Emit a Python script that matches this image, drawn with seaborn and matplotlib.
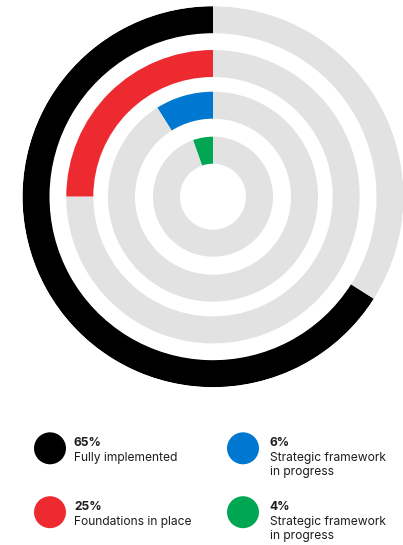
import numpy as np
import pandas as pd
import seaborn as sns
import matplotlib.pyplot as plt

# legend text and values
categories = ["Fully implemented", "Foundations in place",
              "Strategic framework\nin progress", "Strategic framework\nin progress"]
pct_labels = [65, 25, 6, 4]
# arc extent as drawn in the picture (percent of full circle)
arc_share = [66, 25, 8.9, 5.4]
colors = ["#000000", "#ee2a31", "#0077d0", "#00a651"]
gray = "#e2e2e2"

# ring radii (pixels)
ring_outer = [190.5, 146.7, 105.0, 60.0]
ring_width = 27.0

sns.set_theme(style="white")
plt.rcParams['font.family'] = ['Inter', 'DejaVu Sans']

W, H = 403, 545
fig = plt.figure(figsize=(W / 100, H / 100), dpi=100)

# polar axes: centre at (213, 196.7), radius 190.5 px
cx, cy, R = 213.0, 196.7, 190.5
ax = fig.add_axes([(cx - R) / W, (H - cy - R) / H, 2 * R / W, 2 * R / H],
                  projection="polar")
ax.set_theta_zero_location("N")
ax.set_theta_direction(1)
ax.set_ylim(0, R)
ax.axis("off")

for share, col, r_out in zip(arc_share, colors, ring_outer):
    frac = share / 100 * 2 * np.pi
    ax.bar(0, ring_width, width=frac, bottom=r_out - ring_width,
           align="edge", color=col, linewidth=0)
    ax.bar(frac, ring_width, width=2 * np.pi - frac, bottom=r_out - ring_width,
           align="edge", color=gray, linewidth=0)

# legend area in pixel coordinates
lax = fig.add_axes([0, 0, 1, 1])
lax.axis("off")

leg = pd.DataFrame({
    "cat": ["a", "b", "c", "d"],
    "x": [50, 50, 243, 243],
    "y": [448.3, 512.2, 448.3, 512.2],
})
sns.scatterplot(data=leg, x="x", y="y", hue="cat", palette=colors,
                s=530, linewidth=0, legend=False, ax=lax)
lax.set_xlim(0, W)
lax.set_ylim(H, 0)

text_x = [74, 74, 269.5, 269.5]
txt_col = "#1e1e1e"
for i in range(4):
    tx = text_x[i]
    c = leg["y"][i]
    lax.text(tx, c - 2.5, f"{pct_labels[i]}%", fontsize=8.7, fontweight="bold",
             color=txt_col, va="baseline")
    for j, line in enumerate(categories[i].split("\n")):
        lax.text(tx, c + 12.5 + j * 14.6, line, fontsize=8.7, color=txt_col,
                 va="baseline")

fig.savefig("out.png", dpi=100, facecolor="white")
